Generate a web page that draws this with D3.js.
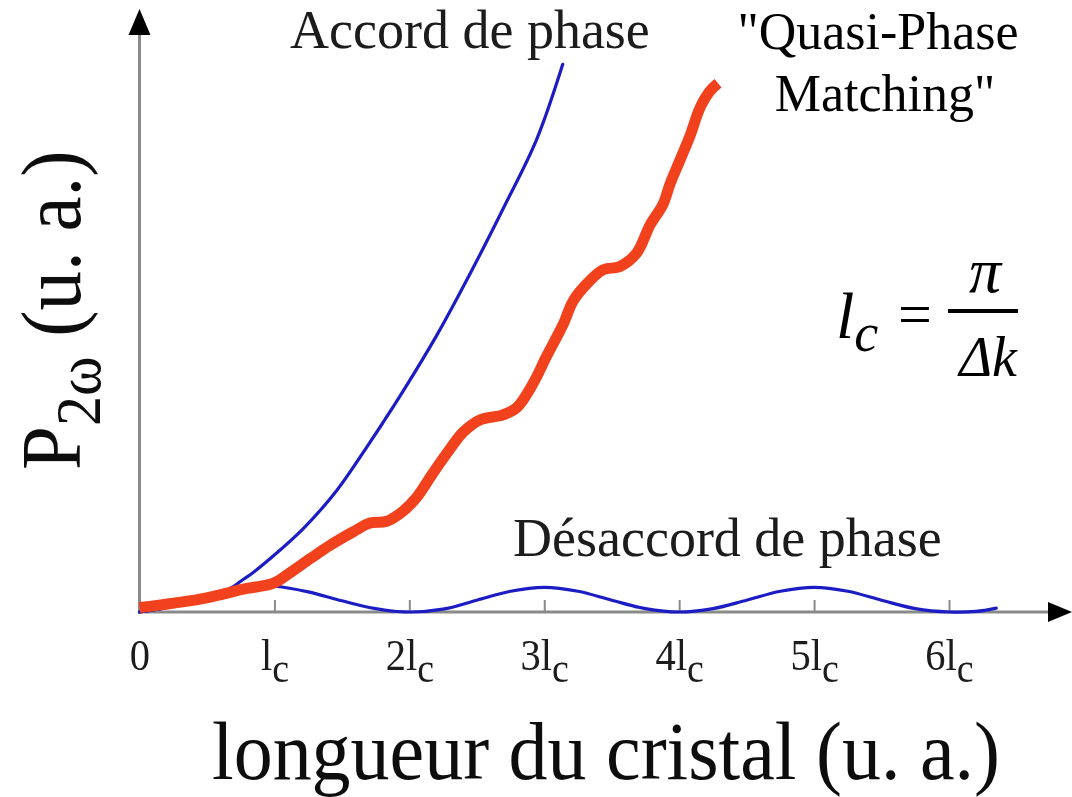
<!DOCTYPE html>
<html>
<head>
<meta charset="utf-8">
<script src="https://cdn.jsdelivr.net/npm/d3@7/dist/d3.min.js"></script>
<style>
  html, body { margin: 0; padding: 0; background: #fff; }
  svg { display: block; }
  text { font-family: "Liberation Serif", "Times New Roman", serif; }
</style>
</head>
<body>
<svg id="chart" width="1072" height="797"></svg>
<script>
// Crystal length in units of the coherence length l_c
const tickValues = [0, 1, 2, 3, 4, 5, 6];
const tickPrefix = ["0", "l", "2l", "3l", "4l", "5l", "6l"];
const tickSub    = ["", "c", "c", "c", "c", "c", "c"];

// Phase-matched second-harmonic power (grows as L^2)
const accordL = [0, 0.175, 0.424, 0.671, 0.75, 0.85, 0.967, 1.214, 1.462, 1.708, 1.955, 2.203, 2.45, 2.697, 2.944, 3.137];
const accordP = [0, 0.07, 0.21, 0.42, 0.55, 0.72, 0.95, 1.49, 2.17, 3.03, 3.95, 4.94, 6.04, 7.21, 8.44, 9.78];

// Phase-mismatched power: oscillates with period 2 l_c
const desaccordL = [0, 0.175, 0.424, 0.671, 0.85, 1.0, 1.25, 1.5, 1.75, 2.0, 2.25, 2.5, 2.75, 3.0, 3.25, 3.5, 3.75, 4.0, 4.25, 4.5, 4.75, 5.0, 5.25, 5.5, 5.75, 6.0, 6.2, 6.35];
const desaccordP = [0, 0.07, 0.21, 0.39, 0.44, 0.46, 0.36, 0.2, 0.06, 0, 0.05, 0.21, 0.37, 0.44, 0.37, 0.21, 0.06, 0, 0.06, 0.21, 0.37, 0.44, 0.37, 0.21, 0.06, 0, 0.01, 0.07];

// Quasi-phase-matched power: staircase growth
const qpmL = [0, 0.448, 0.795, 0.989, 1.115, 1.264, 1.412, 1.583, 1.708, 1.832, 1.953, 2.055, 2.175, 2.301, 2.398, 2.523, 2.694, 2.796, 2.917, 3.018, 3.139, 3.213, 3.315, 3.435, 3.561, 3.685, 3.784, 3.88, 3.932, 4.006, 4.08, 4.154, 4.228, 4.288];
const qpmP = [0.08, 0.23, 0.42, 0.51, 0.7, 0.95, 1.19, 1.43, 1.59, 1.62, 1.8, 2.05, 2.48, 2.91, 3.21, 3.43, 3.52, 3.65, 4.08, 4.57, 5.13, 5.55, 5.86, 6.11, 6.17, 6.41, 6.91, 7.28, 7.64, 8.07, 8.5, 9.0, 9.3, 9.44];

const svg = d3.select("#chart");
const x = d3.scaleLinear().domain([0, 6]).range([139.5, 949]);
const y = d3.scaleLinear().domain([0, 10]).range([612, 52]);

const defs = svg.append("defs");
defs.append("filter").attr("id", "soft")
  .attr("x", "-5%").attr("y", "-5%").attr("width", "110%").attr("height", "110%")
  .append("feGaussianBlur").attr("stdDeviation", 0.6);

const base = svg.append("g").attr("filter", "url(#soft)");

// Axes with arrowheads
const axisGrey = "#8a8a8a";
base.append("line")
  .attr("x1", x(0)).attr("x2", x(0)).attr("y1", y(0) + 1.5).attr("y2", 30)
  .attr("stroke", axisGrey).attr("stroke-width", 3);
base.append("path")
  .attr("d", `M${x(0)},9 L${x(0) - 11},35 L${x(0) + 11},35 Z`)
  .attr("fill", "#000");
base.append("line")
  .attr("x1", x(0) - 1.5).attr("x2", 1052).attr("y1", y(0)).attr("y2", y(0))
  .attr("stroke", axisGrey).attr("stroke-width", 3);
base.append("path")
  .attr("d", `M1072,${y(0)} L1048,${y(0) - 10} L1048,${y(0) + 10} Z`)
  .attr("fill", "#000");

const xAxis = d3.axisBottom(x)
  .tickValues(tickValues)
  .tickSizeInner(-12)
  .tickSizeOuter(0);

const gx = base.append("g")
  .attr("transform", `translate(0,${y(0)})`)
  .call(xAxis);
gx.select(".domain").remove();
gx.selectAll(".tick line").attr("stroke", axisGrey).attr("stroke-width", 2);
gx.selectAll(".tick text").each(function (d, i) {
  const t = d3.select(this);
  t.text(null)
    .attr("y", 58).attr("dy", null)
    .attr("fill", "#1a1a1a")
    .attr("font-size", 45)
    .attr("transform", "scale(0.9,1)")
    .attr("font-family", "Liberation Serif, serif");
  t.append("tspan").text(tickPrefix[i]);
  if (tickSub[i]) t.append("tspan").attr("dy", 12).attr("font-size", 42).text(tickSub[i]);
});

// Curves
const line = d3.line()
  .x(d => x(d[0]))
  .y(d => y(d[1]))
  .curve(d3.curveCatmullRom.alpha(0.5));

const blue = "#1c1cc4";
base.append("path")
  .datum(desaccordL.map((l, i) => [l, desaccordP[i]]))
  .attr("d", line)
  .attr("fill", "none").attr("stroke", blue).attr("stroke-width", 3.2)
  .attr("stroke-linecap", "round");
base.append("path")
  .datum(accordL.map((l, i) => [l, accordP[i]]))
  .attr("d", line)
  .attr("fill", "none").attr("stroke", blue).attr("stroke-width", 3.2)
  .attr("stroke-linecap", "round");

svg.append("path")
  .datum(qpmL.map((l, i) => [l, qpmP[i]]))
  .attr("d", line)
  .attr("fill", "none").attr("stroke", "#f2411d").attr("stroke-width", 11)
  .attr("stroke-linecap", "butt").attr("stroke-linejoin", "round");

// Curve labels
base.append("text").attr("x", 290).attr("y", 48)
  .attr("font-size", 54).attr("fill", "#1a1a1a").text("Accord de phase");
base.append("text").attr("x", 513).attr("y", 556)
  .attr("font-size", 54).attr("fill", "#1a1a1a").text("Désaccord de phase");

// Axis titles
base.append("text").attr("x", 212).attr("y", 779)
  .attr("font-size", 82).attr("fill", "#111")
  .attr("textLength", 788).attr("lengthAdjust", "spacingAndGlyphs")
  .text("longueur du cristal (u. a.)");

const yl = base.append("g").attr("transform", "translate(80,470) rotate(-90) scale(0.94,1)")
  .append("text").attr("font-size", 84).attr("fill", "#111");
yl.append("tspan").text("P");
yl.append("tspan").attr("font-size", 64).attr("dy", 20).text("2ω");
yl.append("tspan").attr("dy", -20).text(" (u. a.)");

// Quasi-phase matching label
const q = svg.append("text").attr("font-size", 52).attr("fill", "#000").attr("text-anchor", "middle");
q.append("tspan").attr("x", 878).attr("y", 49).text("\"Quasi-Phase");
q.append("tspan").attr("x", 885).attr("y", 111).text("Matching\"");

// Coherence length formula
const f = svg.append("g").attr("fill", "#000");
const lc = f.append("text").attr("x", 836).attr("y", 338).attr("font-size", 66).attr("font-style", "italic");
lc.append("tspan").text("l");
lc.append("tspan").attr("font-size", 54).attr("dy", 13).text("c");
f.append("text").attr("x", 915).attr("y", 334).attr("font-size", 60)
  .attr("text-anchor", "middle").text("=");
f.append("line").attr("x1", 948).attr("x2", 1018).attr("y1", 311).attr("y2", 311)
  .attr("stroke", "#000").attr("stroke-width", 4);
f.append("text").attr("x", 985).attr("y", 292).attr("font-size", 64)
  .attr("font-style", "italic").attr("text-anchor", "middle").text("π");
f.append("text").attr("x", 988).attr("y", 376).attr("font-size", 56)
  .attr("font-style", "italic").attr("text-anchor", "middle").text("Δk");
</script>
</body>
</html>
